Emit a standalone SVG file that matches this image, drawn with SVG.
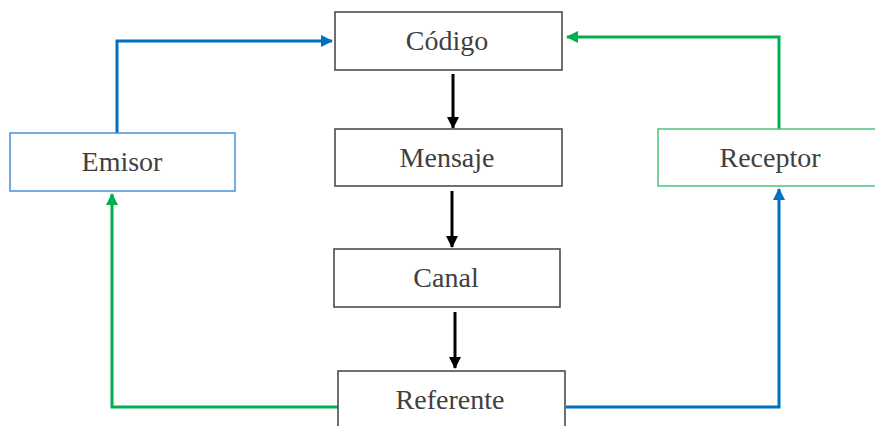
<svg xmlns="http://www.w3.org/2000/svg" width="875" height="426" viewBox="0 0 875 426">
<style>
.box{fill:#fff;stroke:#404040;stroke-width:1.5}
.lbl{font-family:"Liberation Serif","Times New Roman",serif;font-size:28px;fill:#404040;text-anchor:middle}
.c{fill:none;stroke-width:3}
</style>
<defs>
<marker id="ab" markerUnits="userSpaceOnUse" markerWidth="14" markerHeight="14" refX="11" refY="6" orient="auto"><path d="M0,0 L12,6 L0,12 Z" fill="#0070C0"/></marker>
<marker id="ag" markerUnits="userSpaceOnUse" markerWidth="14" markerHeight="14" refX="11" refY="6" orient="auto"><path d="M0,0 L12,6 L0,12 Z" fill="#00B050"/></marker>
<marker id="ak" markerUnits="userSpaceOnUse" markerWidth="14" markerHeight="14" refX="11" refY="6" orient="auto"><path d="M0,0 L12,6 L0,12 Z" fill="#000"/></marker>
</defs>
<g id="connectors">
<path class="c" stroke="#0070C0" d="M117,133 V41 H332" marker-end="url(#ab)"/>
<path class="c" stroke="#00B050" d="M779,129 V37 H567" marker-end="url(#ag)"/>
<path class="c" stroke="#00B050" d="M338,407 H112 V194" marker-end="url(#ag)"/>
<path class="c" stroke="#0070C0" d="M566,407 H779 V189" marker-end="url(#ab)"/>
<path class="c" stroke="#000" d="M453,74 V128" marker-end="url(#ak)"/>
<path class="c" stroke="#000" d="M452,191 V247" marker-end="url(#ak)"/>
<path class="c" stroke="#000" d="M455,312 V368" marker-end="url(#ak)"/>
</g>
<g id="codigo"><rect class="box" x="335" y="12" width="227" height="58"/><text class="lbl" x="447" y="50">Código</text></g>
<g id="emisor"><rect class="box" style="stroke:#4A90D9" x="10" y="133" width="225" height="58"/><text class="lbl" x="122" y="171">Emisor</text></g>
<g id="mensaje"><rect class="box" x="335" y="129" width="227" height="57"/><text class="lbl" x="447" y="167">Mensaje</text></g>
<g id="receptor"><rect class="box" style="stroke:#4CC47E" x="658" y="129" width="224" height="57"/><text class="lbl" x="770" y="167">Receptor</text></g>
<g id="canal"><rect class="box" x="334" y="249" width="226" height="58"/><text class="lbl" x="446" y="287">Canal</text></g>
<g id="referente"><rect class="box" x="338" y="371" width="227" height="60"/><text class="lbl" x="450" y="409">Referente</text></g>
</svg>
